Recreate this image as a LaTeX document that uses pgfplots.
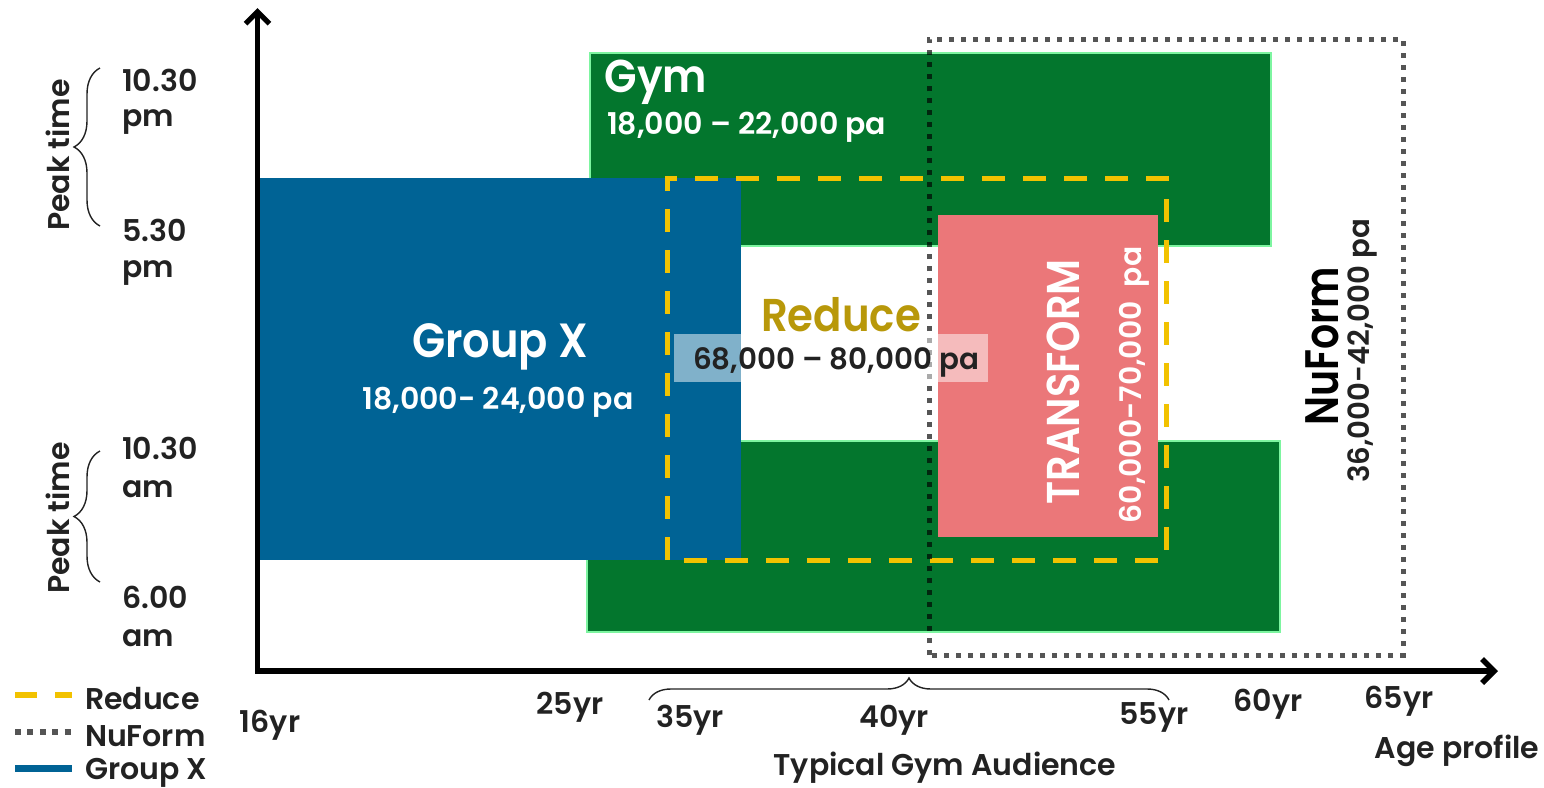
\documentclass[border=0pt]{standalone}
\usepackage{fontspec}
\setmainfont{Poppins}[BoldFont={* SemiBold}]
\usepackage{pgfplots}
\pgfplotsset{compat=1.18}
\usetikzlibrary{arrows.meta,decorations.pathreplacing}

\definecolor{gymgreen}{RGB}{3,118,45}
\definecolor{gymedge}{RGB}{125,245,160}
\definecolor{grpblue}{RGB}{0,99,149}
\definecolor{trpink}{RGB}{235,119,121}
\definecolor{redyellow}{RGB}{242,194,0}
\definecolor{redtext}{RGB}{184,152,10}
\definecolor{nugray}{RGB}{85,85,85}
\definecolor{ink}{RGB}{34,34,34}

\newcommand\fs[1]{\fontsize{#1}{#1}\selectfont}

\begin{document}
\begin{tikzpicture}
\begin{axis}[
  scale only axis, width=772pt, height=394pt,
  xmin=0, xmax=1544, ymin=0, ymax=788, y dir=reverse,
  hide axis, clip=false,
]
% Gym: evening and morning blocks
\addplot[fill=gymgreen, draw=gymedge, line width=1pt]
  coordinates {(590,53) (1271,53) (1271,246) (590,246)} --cycle;
\addplot[fill=gymgreen, draw=gymedge, line width=1pt]
  coordinates {(587,441) (1280,441) (1280,632) (587,632)} --cycle;
% Group X
\addplot[fill=grpblue, draw=none]
  coordinates {(260,178) (741,178) (741,560) (260,560)} --cycle;
% TRANSFORM
\addplot[fill=trpink, draw=none]
  coordinates {(938,215) (1158,215) (1158,537) (938,537)} --cycle;
% Reduce (dashed outline)
\addplot[draw=redyellow, line width=2.5pt, dash pattern=on 11.5pt off 9pt]
  coordinates {(667,560) (667,178) (1166,178) (1166,560)} --cycle;
% NuForm (dotted outline)
\addplot[draw=nugray, line width=2.5pt, dash pattern=on 2.4pt off 3.6pt, blend mode=multiply]
  coordinates {(929,655) (929,39) (1403,39) (1403,655)} --cycle;
% translucent box behind the Reduce range
\addplot[fill=white, fill opacity=0.5, draw=none]
  coordinates {(674,334) (988,334) (988,382) (674,382)} --cycle;

% legend samples
\addplot[draw=redyellow, line width=3pt, dash pattern=on 11pt off 9pt]
  coordinates {(15,695) (72,695)};
\addplot[draw=nugray, line width=3pt, dash pattern=on 3pt off 3.2pt]
  coordinates {(15,732) (72,732)};
\addplot[draw=grpblue, line width=3.5pt]
  coordinates {(15,768) (72,768)};

% axes with arrow heads
\draw[line width=2.6pt, -{Straight Barb[length=6pt,width=12pt]}]
  (axis cs:257.5,672) -- (axis cs:257.5,8);
\draw[line width=2.8pt, -{Straight Barb[length=6pt,width=12pt]}]
  (axis cs:255,671) -- (axis cs:1498,671);

% braces
\draw[ink, line width=0.7pt, decorate, decoration={brace, amplitude=13pt}]
  (axis cs:100,226) -- (axis cs:100,68);
\draw[ink, line width=0.7pt, decorate, decoration={brace, amplitude=13pt}]
  (axis cs:100,582) -- (axis cs:100,451);
\draw[ink, line width=0.7pt, decorate, decoration={brace, amplitude=11pt}]
  (axis cs:649,700) -- (axis cs:1169,700);

% block labels
\node[anchor=west, text=white, font=\bfseries\fs{23}, xscale=0.92] at (axis cs:598,82) {Gym};
\node[anchor=west, text=white, font=\bfseries\fs{15}] at (axis cs:600,127) {18,000 – 22,000 pa};
\node[text=white, font=\bfseries\fs{24}, xscale=0.9] at (axis cs:500,347) {Group X};
\node[text=white, font=\bfseries\fs{15}] at (axis cs:498,402) {18,000- 24,000 pa};
\node[text=redtext, font=\bfseries\fs{23}, xscale=0.91] at (axis cs:841,315) {Reduce};
\node[text=ink, font=\bfseries\fs{14.7}] at (axis cs:836,362) {68,000 – 80,000 pa};
\node[rotate=90, text=white, font=\bfseries\fs{23}, xscale=0.87] at (axis cs:1063,382) {TRANSFORM};
\node[rotate=90, text=white, font=\bfseries\fs{14.9}] at (axis cs:1134,385) {60,000-70,000\ \ pa};
\node[rotate=90, text=black, font=\bfseries\fs{23.5}, xscale=0.84] at (axis cs:1322,346) {NuForm};
\node[rotate=90, text=ink, font=\bfseries\fs{14.6}] at (axis cs:1362,351) {36,000-42,000 pa};

% time labels
\node[rotate=90, text=ink, font=\bfseries\fs{15}] at (axis cs:58,155) {Peak time};
\node[rotate=90, text=ink, font=\bfseries\fs{15}] at (axis cs:58,518) {Peak time};
\node[anchor=west, text=ink, font=\bfseries\fs{15}] at (axis cs:115,80) {10.30};
\node[anchor=west, text=ink, font=\bfseries\fs{15}] at (axis cs:115,122) {pm};
\node[anchor=west, text=ink, font=\bfseries\fs{15}] at (axis cs:115,230) {5.30};
\node[anchor=west, text=ink, font=\bfseries\fs{15}] at (axis cs:115,273) {pm};
\node[anchor=west, text=ink, font=\bfseries\fs{15}] at (axis cs:115,448) {10.30};
\node[anchor=west, text=ink, font=\bfseries\fs{15}] at (axis cs:115,489) {am};
\node[anchor=west, text=ink, font=\bfseries\fs{15}] at (axis cs:115,597) {6.00};
\node[anchor=west, text=ink, font=\bfseries\fs{15}] at (axis cs:115,638) {am};

% age labels
\node[text=ink, font=\bfseries\fs{15}] at (axis cs:270,725) {16yr};
\node[text=ink, font=\bfseries\fs{15}] at (axis cs:570,707) {25yr};
\node[text=ink, font=\bfseries\fs{15}] at (axis cs:690,720) {35yr};
\node[text=ink, font=\bfseries\fs{15}] at (axis cs:894,720) {40yr};
\node[text=ink, font=\bfseries\fs{15}] at (axis cs:1154,717) {55yr};
\node[text=ink, font=\bfseries\fs{15}] at (axis cs:1268,704) {60yr};
\node[text=ink, font=\bfseries\fs{15}] at (axis cs:1399,701) {65yr};
\node[text=ink, font=\bfseries\fs{15}] at (axis cs:1457,751) {Age profile};
\node[text=ink, font=\bfseries\fs{15}] at (axis cs:945,768) {Typical Gym Audience};

% legend text
\node[anchor=west, text=ink, font=\bfseries\fs{15}] at (axis cs:78,699) {Reduce};
\node[anchor=west, text=ink, font=\bfseries\fs{15}] at (axis cs:78,736) {NuForm};
\node[anchor=west, text=ink, font=\bfseries\fs{15}] at (axis cs:78,773) {Group X};
\end{axis}
\pgfresetboundingbox
\path (0,0) rectangle (772pt,394pt);
\end{tikzpicture}
\end{document}
